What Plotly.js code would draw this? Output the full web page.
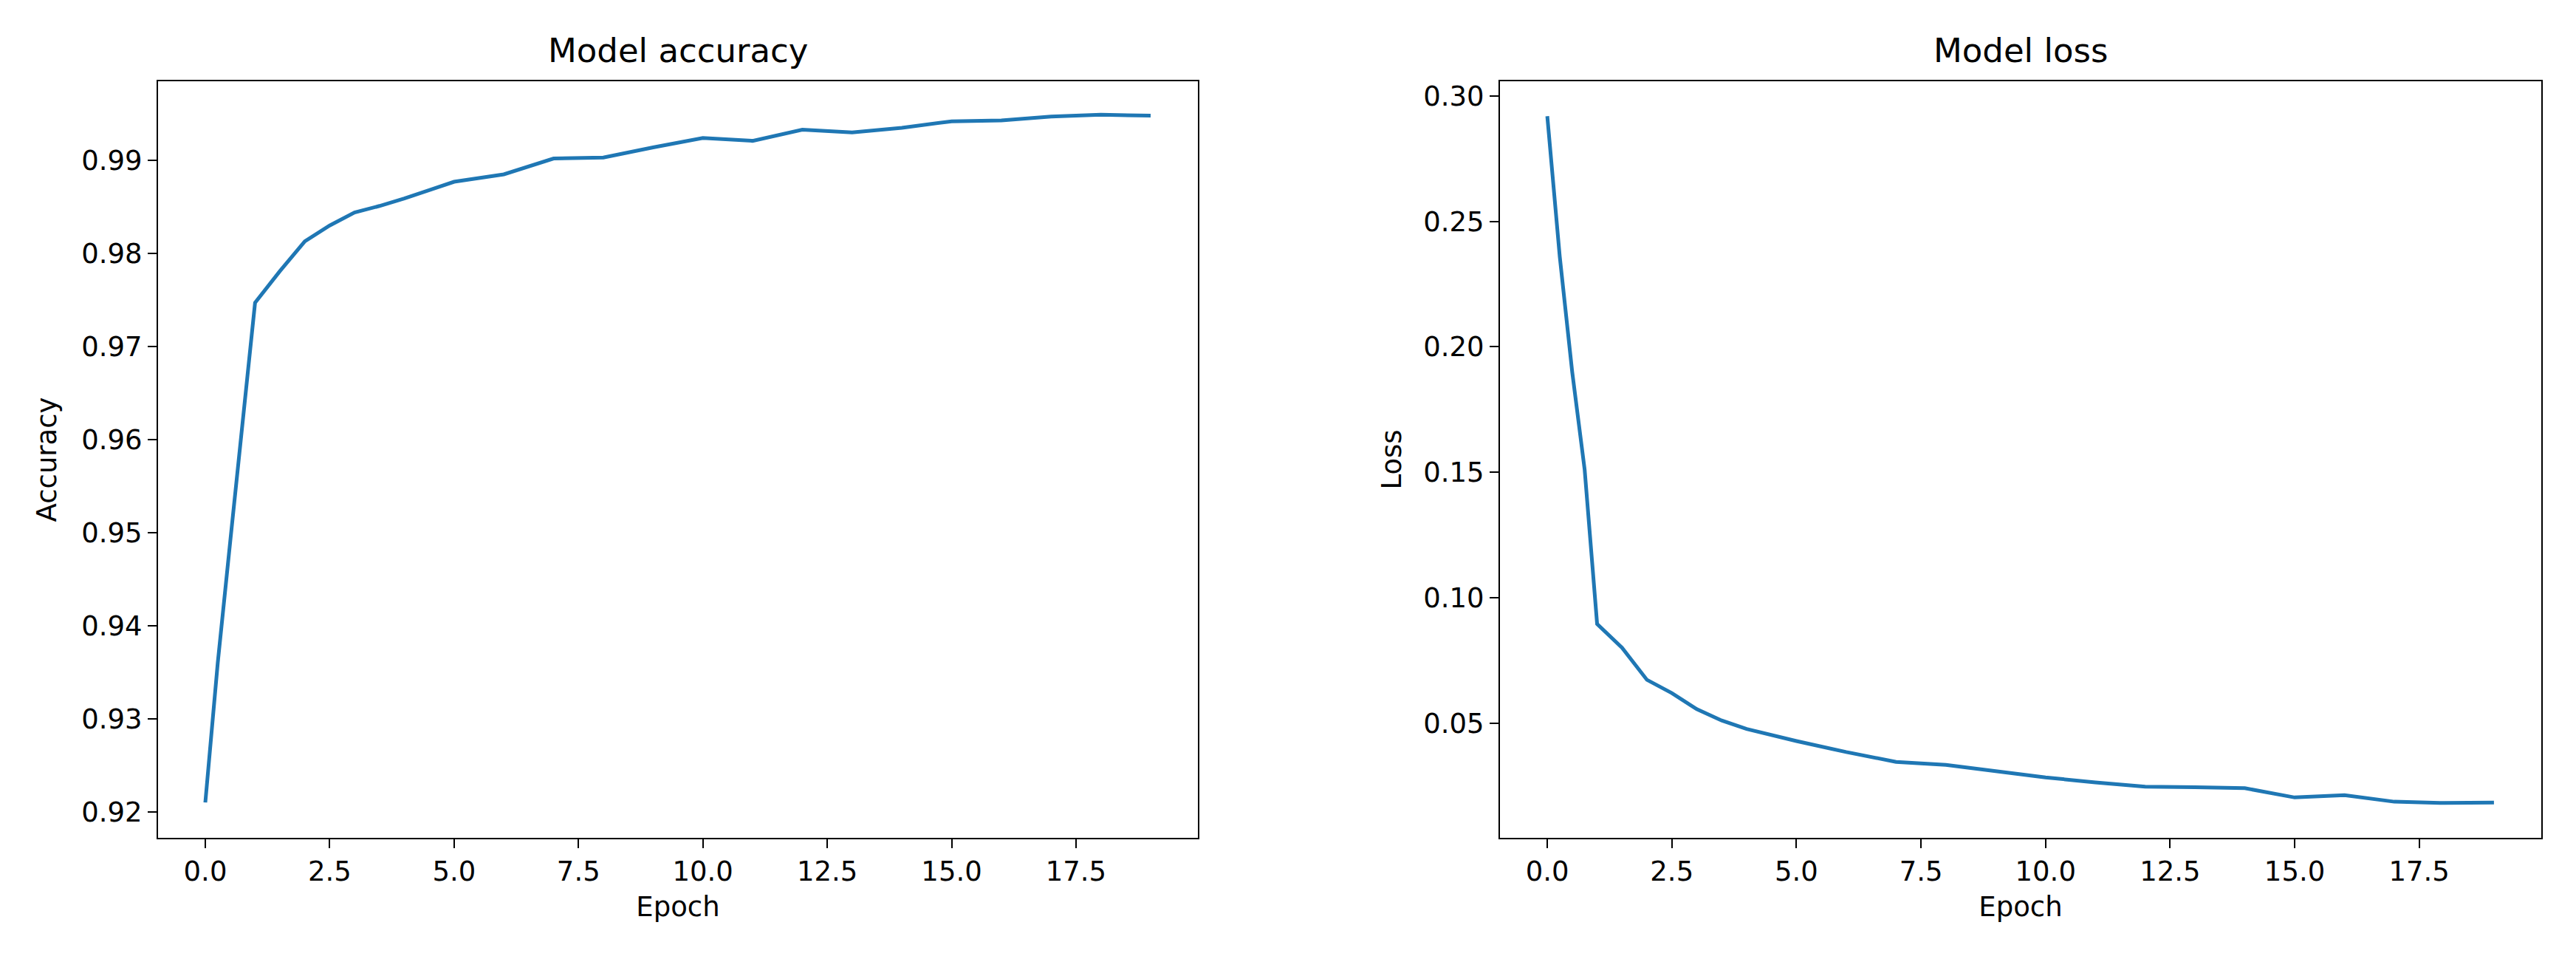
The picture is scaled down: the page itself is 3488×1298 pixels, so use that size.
<!DOCTYPE html>
<html>
<head>
<meta charset="utf-8">
<script src="https://cdn.plot.ly/plotly-3.0.1.min.js"></script>
<style>
  html, body { margin: 0; padding: 0; background: #fff; }
  #chart { width: 3488px; height: 1298px; }
</style>
</head>
<body>
<div id="chart"></div>
<script>
// training history
const accEpoch = [0, 0.25, 0.5, 0.75, 1, 1.5, 2, 2.5, 3, 3.5, 4, 5, 6, 7, 8, 9, 10, 11, 12, 13, 14, 15, 16, 17, 18, 19];
const accValue = [0.921, 0.936, 0.949, 0.962, 0.9747, 0.9781, 0.9813, 0.9830, 0.9844, 0.9851, 0.9859, 0.9877, 0.9885,
                  0.9902, 0.9903, 0.9914, 0.9924, 0.9921, 0.9933, 0.9930, 0.9935, 0.9942, 0.9943, 0.9947, 0.9949, 0.9948];

const lossEpoch = [0, 0.25, 0.5, 0.75, 1, 1.5, 2, 2.5, 3, 3.5, 4, 5, 6, 7, 8, 9, 10, 11, 12, 13, 14, 15, 16, 17, 18, 19];
const lossValue = [0.292, 0.236, 0.190, 0.151, 0.0895, 0.0800, 0.0672, 0.0619, 0.0555, 0.0510, 0.0476, 0.0428, 0.0384,
                   0.0345, 0.0333, 0.0307, 0.0283, 0.0263, 0.0246, 0.0244, 0.0240, 0.0203, 0.0212, 0.0186, 0.0181, 0.0183];

const xTicks = [0, 2.5, 5, 7.5, 10, 12.5, 15, 17.5];
const accTicks = [0.92, 0.93, 0.94, 0.95, 0.96, 0.97, 0.98, 0.99];
const lossTicks = [0.05, 0.10, 0.15, 0.20, 0.25, 0.30];

const W = 3488, H = 1298;
const font = {family: 'DejaVu Sans', size: 37, color: '#000'};
const blue = '#1f77b4';

function axisBase(extra) {
  return Object.assign({
    showgrid: false,
    zeroline: false,
    showline: true,
    linecolor: '#000',
    linewidth: 2,
    mirror: true,
    ticks: 'outside',
    ticklen: 12,
    tickwidth: 2,
    tickcolor: '#000',
    tickfont: font,
    automargin: false,
  }, extra);
}

let acc = {
  x: accEpoch,
  y: accValue,
  type: 'scatter',
  mode: 'lines',
  line: {color: blue, width: 5},
  xaxis: 'x',
  yaxis: 'y',
  hoverinfo: 'skip'
};
let loss = {
  x: lossEpoch,
  y: lossValue,
  type: 'scatter',
  mode: 'lines',
  line: {color: blue, width: 5},
  xaxis: 'x2',
  yaxis: 'y2',
  hoverinfo: 'skip'
};

const yDom = [1 - 1134 / H, 1 - 110 / H];
const x1Dom = [214 / W, 1622 / W];
const x2Dom = [2031 / W, 3441 / W];

let layout = {
  width: W,
  height: H,
  margin: {l: 0, r: 0, t: 0, b: 0},
  paper_bgcolor: '#fff',
  plot_bgcolor: '#fff',
  showlegend: false,
  font: font,
  xaxis: axisBase({
    domain: x1Dom, anchor: 'y', range: [-0.95, 19.95],
    tickvals: xTicks, tickformat: '.1f',
    title: {text: 'Epoch', font: font, standoff: 14}
  }),
  yaxis: axisBase({
    domain: yDom, anchor: 'x', range: [0.9172, 0.9985],
    tickvals: accTicks, tickformat: '.2f',
    title: {text: 'Accuracy', font: font, standoff: 22}
  }),
  xaxis2: axisBase({
    domain: x2Dom, anchor: 'y2', range: [-0.95, 19.95],
    tickvals: xTicks, tickformat: '.1f',
    title: {text: 'Epoch', font: font, standoff: 14}
  }),
  yaxis2: axisBase({
    domain: yDom, anchor: 'x2', range: [0.0042, 0.3059],
    tickvals: lossTicks, tickformat: '.2f',
    title: {text: 'Loss', font: font, standoff: 18}
  }),
  annotations: [
    {text: 'Model accuracy', xref: 'paper', yref: 'paper', x: (x1Dom[0] + x1Dom[1]) / 2, y: 1 - 68 / H,
     xanchor: 'center', yanchor: 'middle', showarrow: false, font: {family: 'DejaVu Sans', size: 45, color: '#000'}},
    {text: 'Model loss', xref: 'paper', yref: 'paper', x: (x2Dom[0] + x2Dom[1]) / 2, y: 1 - 68 / H,
     xanchor: 'center', yanchor: 'middle', showarrow: false, font: {family: 'DejaVu Sans', size: 45, color: '#000'}}
  ]
};

Plotly.newPlot('chart', [acc, loss], layout, {staticPlot: true});
</script>
</body>
</html>
